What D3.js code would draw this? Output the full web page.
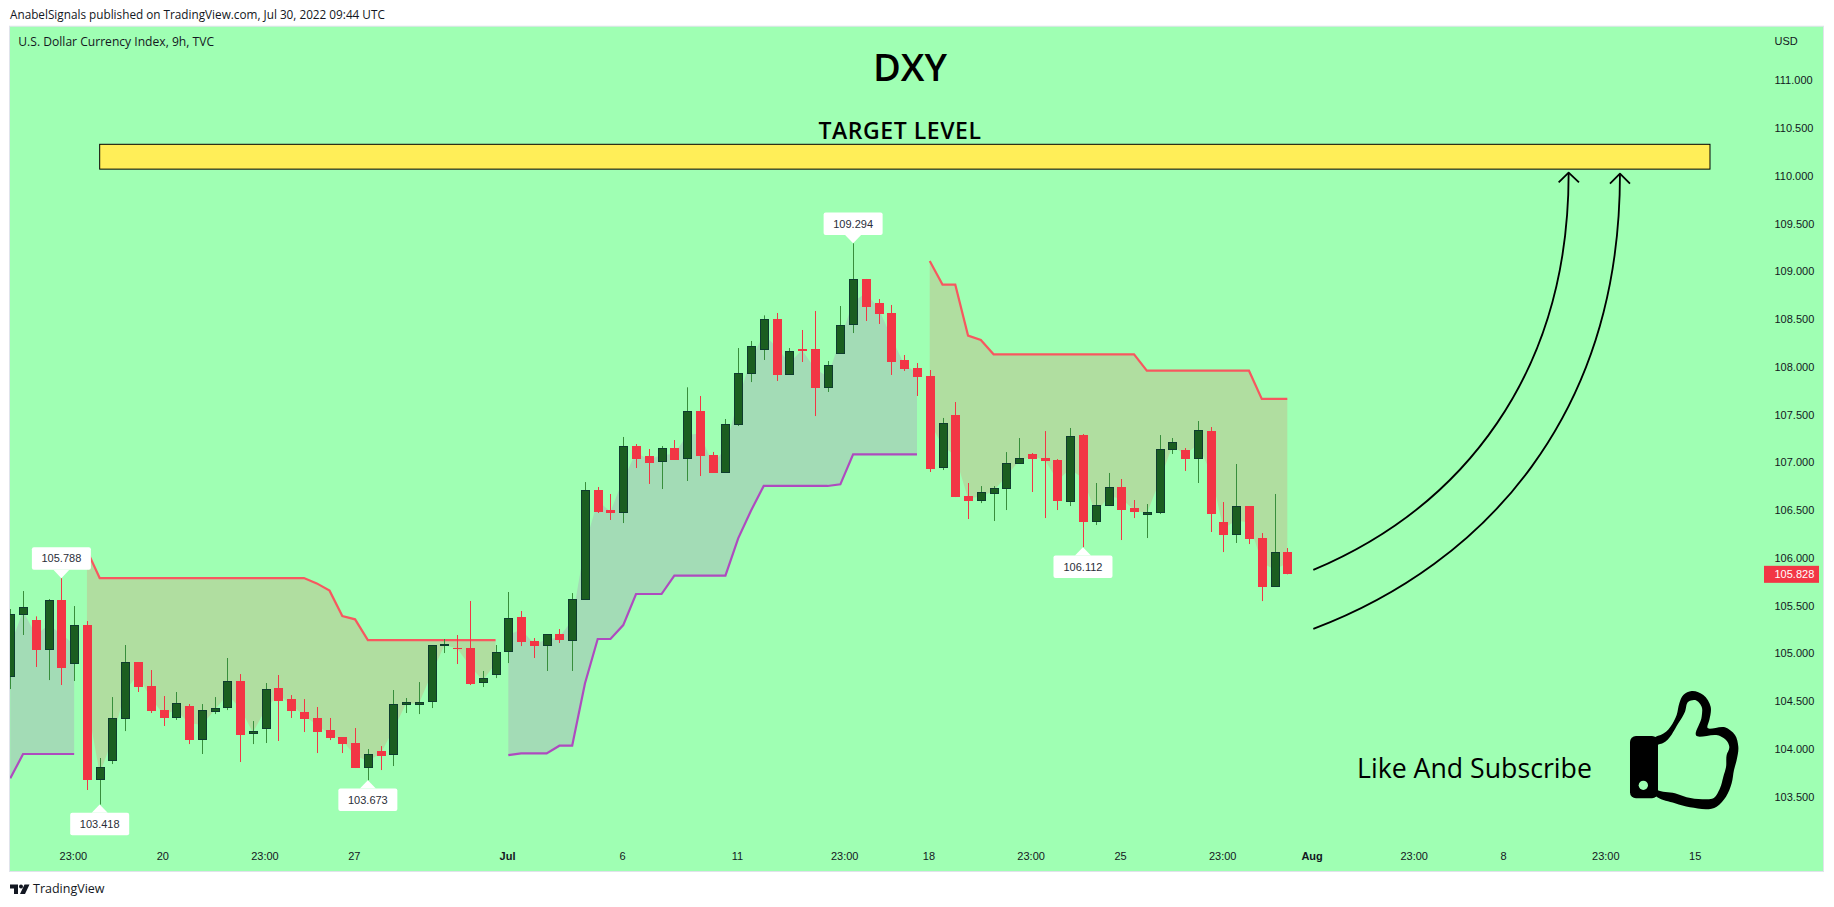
<!DOCTYPE html>
<html><head><meta charset="utf-8">
<script src="https://cdn.jsdelivr.net/npm/d3@7/dist/d3.min.js"></script>
<style>html,body{margin:0;padding:0;background:#fff;overflow:hidden}svg{display:block}</style>
</head><body><svg id="c" width="1834" height="907"></svg>
<script>
const opens=[104.756,105.405,105.35,105.039,105.559,104.892,105.297,103.678,103.877,104.317,
104.906,104.659,104.407,104.327,104.449,104.097,104.39,104.432,104.707,104.16,
104.212,104.638,104.522,104.386,104.324,104.198,104.125,104.062,103.804,103.978,
103.94,104.463,104.463,104.495,105.081,105.056,105.056,104.693,104.777,105.018,
105.381,105.13,105.081,105.203,105.133,105.563,106.711,106.501,106.473,107.171,
107.067,107.007,107.15,107.039,107.538,107.077,106.892,107.395,107.929,108.18,
108.501,107.918,108.187,108.187,107.779,108.138,108.442,108.92,108.669,108.564,
108.072,107.988,107.904,106.945,107.496,106.648,106.599,106.672,106.725,106.986,
107.088,107.046,107.025,106.588,107.286,106.379,106.547,106.742,106.522,106.452,
106.473,107.133,107.129,107.039,107.328,106.376,106.243,106.543,106.208,105.698,106.061];
const highs=[105.465,105.653,105.388,105.569,105.788,105.496,105.339,103.905,104.543,105.088,
104.906,104.826,104.554,104.596,104.47,104.47,104.543,104.952,104.784,104.292,
104.69,104.774,104.564,104.522,104.439,104.324,104.125,104.219,103.999,104.03,
104.617,104.533,104.7,105.084,105.151,105.193,105.549,104.816,105.088,105.643,
105.444,105.161,105.2,105.255,105.632,106.794,106.742,106.669,107.266,107.192,
107.14,107.171,107.234,107.786,107.695,107.109,107.454,108.197,108.271,108.539,
108.564,108.197,108.386,108.585,108.061,108.637,109.294,108.92,108.71,108.648,
108.124,108.04,107.967,107.465,107.632,106.784,106.752,106.752,107.108,107.255,
107.098,107.328,107.035,107.36,107.297,106.784,106.889,106.826,106.606,106.564,
107.286,107.255,107.15,107.433,107.37,106.585,106.983,106.543,106.26,106.669,106.103];
const lows=[104.627,105.193,104.858,104.721,104.669,104.711,103.57,103.418,103.842,104.187,
104.596,104.376,104.24,104.303,104.051,103.947,104.365,104.407,103.863,104.051,
104.062,104.083,104.324,104.177,103.957,104.093,103.957,103.8,103.673,103.779,
103.821,104.376,104.365,104.428,105.004,104.889,104.669,104.648,104.742,104.899,
105.077,104.952,104.816,105.109,104.816,105.563,106.47,106.397,106.365,106.941,
106.774,106.721,107.025,106.805,106.857,106.889,106.892,107.381,107.841,108.072,
107.852,107.918,108.051,107.485,107.737,108.138,108.354,108.48,108.449,107.915,
107.957,107.695,106.899,106.92,106.637,106.407,106.574,106.386,106.501,106.986,
106.69,106.417,106.501,106.543,106.112,106.344,106.547,106.187,106.417,106.208,
106.459,107.088,106.91,106.784,106.271,106.061,106.156,106.145,105.548,105.698,105.828];
const closes=[105.409,105.482,105.035,105.556,104.847,105.294,103.674,103.807,104.32,104.906,
104.648,104.397,104.324,104.477,104.093,104.404,104.425,104.707,104.146,104.184,
104.624,104.502,104.397,104.313,104.177,104.114,104.051,103.8,103.943,103.926,
104.467,104.488,104.488,105.084,105.095,105.049,104.68,104.739,105.011,105.367,
105.119,105.077,105.2,105.14,105.566,106.707,106.48,106.47,107.168,107.035,
106.993,107.147,107.025,107.534,107.067,106.889,107.398,107.932,108.215,108.498,
107.915,108.163,108.166,107.779,108.016,108.435,108.916,108.627,108.553,108.051,
107.978,107.894,106.931,107.409,106.637,106.595,106.686,106.728,106.99,107.042,
107.035,107.014,106.595,107.272,106.376,106.55,106.739,106.501,106.48,106.477,
107.136,107.21,107.035,107.335,106.459,106.239,106.54,106.198,105.695,106.058,105.828];
const supertrendUp=[103.692,103.947,103.947,103.947,103.947,103.947,
null,null,null,null,null,null,null,null,null,null,null,null,null,null,null,null,null,null,null,null,null,null,null,null,null,null,null,null,null,null,null,null,null,
103.936,103.954,103.954,103.954,104.034,104.034,104.686,105.151,105.151,105.297,105.622,105.622,105.622,105.814,105.814,105.814,105.814,105.814,106.205,106.494,106.753,106.753,106.753,106.753,106.753,106.753,106.77,107.084,107.084,107.084,107.084,107.084,107.084,
null,null,null,null,null,null,null,null,null,null,null,null,null,null,null,null,null,null,null,null,null,null,null,null,null,null,null,null,null];
const supertrendDown=[null,null,null,null,null,null,
106.079,105.789,105.789,105.789,105.789,105.789,105.789,105.789,105.789,105.789,105.789,105.789,105.789,105.789,105.789,105.789,105.789,105.789,105.733,105.657,105.391,105.357,105.14,105.14,105.14,105.14,105.14,105.14,105.14,105.14,105.14,105.14,105.14,
null,null,null,null,null,null,null,null,null,null,null,null,null,null,null,null,null,null,null,null,null,null,null,null,null,null,null,null,null,null,null,null,null,
109.108,108.861,108.861,108.327,108.281,108.131,108.131,108.131,108.131,108.131,108.131,108.131,108.131,108.131,108.131,108.131,108.131,107.96,107.96,107.96,107.96,107.96,107.96,107.96,107.96,107.96,107.664,107.664,107.664];
const priceTicks=[103.5,104,104.5,105,105.5,106,106.5,107,107.5,108,108.5,109,109.5,110,110.5,111];
const timeTickBars=[4.9,11.9,19.9,26.9,38.9,47.9,56.9,65.3,71.9,79.9,86.9,94.9,101.9,109.9,116.9,124.9,131.9];
const timeTickLabels=["23:00","20","23:00","27","Jul","6","11","23:00","18","23:00","25","23:00","Aug","23:00","8","23:00","15"];
const boldTickLabels=["Jul","Aug"];
const calloutHighBars=[4,66];
const calloutLowBars=[7,28,84];
const targetZone=[110.07,110.33];
const targetBars=[7,133.1];
const lastPrice=105.828;

const font='"Liberation Sans",Arial,sans-serif', titleFont='"Open Sans",sans-serif';
const BG='#9fffb3',GREEN='#1b5e20',GBORDER='#0e3d2e',GWICK='#388e3c',RED='#f23645';
const svg=d3.select('#c');
const x=d3.scaleLinear().domain([0,100]).range([10.3,1287.3]);
const y=d3.scaleLinear().domain([111,103.5]).range([80.3,796.7]);
const L=10,R=1823,T=26.7,B=871;
const idx=d3.range(opens.length);

svg.append('rect').attr('x',L-.5).attr('y',T-.5).attr('width',R-L+1).attr('height',B-T+1).attr('fill',BG).attr('stroke','#e0e3eb');
svg.append('defs').append('clipPath').attr('id','plot').append('rect').attr('x',L).attr('y',T).attr('width',R-L).attr('height',B-T);
const g=svg.append('g').attr('clip-path','url(#plot)');

const mid=i=>(opens[i]+closes[i])/2;
function band(vals,fill,stroke){
  const def=i=>vals[i]!=null;
  g.append('path').attr('d',d3.area().defined(def).x(i=>x(i)).y0(i=>y(vals[i])).y1(i=>y(mid(i)))(idx)).attr('fill',fill);
  g.append('path').attr('d',d3.line().defined(def).x(i=>x(i)).y(i=>y(vals[i]))(idx)).attr('fill','none').attr('stroke',stroke).attr('stroke-width',2.2);
}
band(supertrendUp,'#a3dcb6','#ae4bbf');
band(supertrendDown,'#b0dea0','#f7585f');

// candles
idx.forEach(i=>{
  const up=closes[i]>=opens[i], cx=Math.round(x(i));
  g.append('line').attr('x1',cx+.5).attr('x2',cx+.5).attr('y1',y(highs[i])).attr('y2',y(lows[i])).attr('stroke',up?GWICK:RED).attr('stroke-width',1);
  const t=Math.round(y(Math.max(opens[i],closes[i]))),b=Math.round(y(Math.min(opens[i],closes[i])));
  if(up) g.append('rect').attr('x',cx-3.5).attr('y',t+.5).attr('width',8).attr('height',Math.max(1,b-t-1)).attr('fill',GREEN).attr('stroke',GBORDER);
  else g.append('rect').attr('x',cx-4).attr('y',t).attr('width',9).attr('height',Math.max(1,b-t)).attr('fill',RED);
});

// axes
const yAxis=d3.axisRight(y).tickValues(priceTicks).tickFormat(d3.format('.3f')).tickSize(0).tickPadding(0);
const ya=svg.append('g').attr('transform','translate(1774.5,0)').call(yAxis);
ya.select('.domain').remove();
ya.selectAll('text').attr('font-family',font).attr('font-size',11).attr('fill','#131722');
const xAxis=d3.axisBottom(x).tickValues(timeTickBars).tickFormat((d,i)=>timeTickLabels[i]).tickSize(0).tickPadding(0);
const xa=svg.append('g').attr('transform','translate(0,852)').call(xAxis);
xa.select('.domain').remove();
xa.selectAll('text').attr('font-family',font).attr('font-size',11).attr('fill','#131722')
  .attr('font-weight',(d,i)=>boldTickLabels.includes(timeTickLabels[i])?700:400);

function text(s,tx,ty,size,opt={}){
  return svg.append('text').text(s).attr('x',tx).attr('y',ty).attr('dy','.35em').attr('font-family',opt.font||font)
    .attr('font-size',size).attr('font-weight',opt.weight||400).attr('fill',opt.fill||'#131722').attr('text-anchor',opt.anchor||'start');
}
text('USD',1774.5,40.7,11);
text('U.S. Dollar Currency Index, 9h, TVC',18.3,41.5,12.1,{font:titleFont});
text('AnabelSignals published on TradingView.com, Jul 30, 2022 09:44 UTC',10,14.5,11.75,{font:titleFont});
text('TradingView',33,889,12.5,{font:titleFont});

// logo
svg.append('path').attr('d','M10 884.5h8v9.5h-4v-5.5h-4z M24.5 884.5h5l-4.5 9.5h-5z').attr('fill','#131722');
svg.append('circle').attr('cx',21).attr('cy',886.6).attr('r',2).attr('fill','#131722');

// target zone
svg.append('rect').attr('x',x(targetBars[0])).attr('width',x(targetBars[1])-x(targetBars[0]))
  .attr('y',y(targetZone[1])).attr('height',y(targetZone[0])-y(targetZone[1])).attr('fill','#ffee58').attr('stroke','#000').attr('stroke-width',1);
text('DXY',910,68,38,{font:titleFont,weight:600,fill:'#000',anchor:'middle'});
text('TARGET LEVEL',900,131,23,{font:titleFont,weight:600,fill:'#000',anchor:'middle'}).attr('letter-spacing',.55);
text('Like And Subscribe',1357,769,26.7,{font:titleFont,fill:'#000'});

// callouts
function callout(i,high){
  const v=high?highs[i]:lows[i],cx=x(i),ty=y(v),s=high?-1:1;
  const bw=59,bh=22.5,top=ty+s*8.3,far=ty+s*30.8;
  const y1=Math.min(top,far);
  const g2=svg.append('g');
  g2.append('rect').attr('x',cx-bw/2).attr('y',y1).attr('width',bw).attr('height',bh).attr('rx',2).attr('fill','#fff');
  g2.append('path').attr('d',d3.line()([[cx-8,top],[cx,ty],[cx+8,top]])).attr('fill','#fff');
  g2.append('text').text(d3.format('.3f')(v)).attr('x',cx).attr('y',y1+bh/2).attr('dy','.35em').attr('text-anchor','middle')
    .attr('font-family',font).attr('font-size',11).attr('fill','#2a2e39');
}
calloutHighBars.forEach(i=>callout(i,true));
calloutLowBars.forEach(i=>callout(i,false));

// last price
svg.append('rect').attr('x',1764).attr('y',y(lastPrice)-8.5).attr('width',55).attr('height',17).attr('fill',RED);
text(d3.format('.3f')(lastPrice),1774.5,y(lastPrice),11,{fill:'#fff'});

// hand-drawn arrows (annotation, crop units of 1/3 px from origin 1300,160)
const ann=svg.append('g').attr('transform','translate(1300,160) scale(0.3333)').attr('fill','none').attr('stroke','#000').attr('stroke-width',5.5).attr('stroke-linejoin','round');
ann.append('path').attr('d','M40 1230C490 1040 806 640 806 40');
ann.append('path').attr('d','M40 1407C560 1210 960 760 960 42');
ann.append('path').attr('d','M776 67L806 38L837 67');
ann.append('path').attr('d','M930 71L960 41L990 71');

// thumbs-up icon
const outer=[[112,168],[122,165],[170,105],[178,70],[190,45],[215,33],[250,45],[272,80],[268,120],[262,142],[315,142],[345,165],[355,200],[350,240],[342,270],[335,310],[318,350],[290,380],[210,382],[165,370],[112,352]];
const inner=[[112,195],[128,190],[175,130],[195,95],[205,65],[225,60],[245,80],[245,110],[228,166],[300,168],[320,182],[328,200],[320,225],[318,262],[310,290],[300,325],[280,355],[250,358],[200,352],[165,340],[112,330]];
const cl=d3.line().curve(d3.curveCatmullRomClosed.alpha(1));
const th=svg.append('g').attr('transform','translate(1620,680) scale(0.3333)');
th.append('path').attr('d',cl(outer)).attr('fill','#000');
th.append('path').attr('d',cl(inner)).attr('fill',BG);
th.append('rect').attr('x',30).attr('y',168).attr('width',84).attr('height',187).attr('rx',18).attr('fill','#000');
th.append('circle').attr('cx',70).attr('cy',316).attr('r',14).attr('fill',BG);
</script></body></html>
